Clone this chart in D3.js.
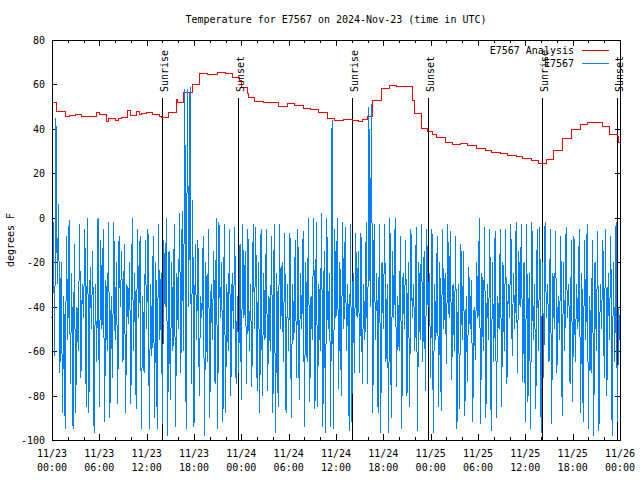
<!DOCTYPE html>
<html><head><meta charset="utf-8">
<script src="https://cdn.jsdelivr.net/npm/d3@7"></script>
<style>
html,body{margin:0;padding:0;background:#fff;}
text{font-family:"DejaVu Sans Mono","Liberation Mono",monospace;font-size:10px;fill:#000;}
</style></head><body>
<svg id="c" width="640" height="480"></svg>
<script>
const titleText = "Temperature for E7567 on 2024-Nov-23 (time in UTC)";
const yLabel = "degrees F";
const startUTC = Date.UTC(2024, 10, 23, 0, 0);
const spanHours = 72;
const yTicks = [-100, -80, -60, -40, -20, 0, 20, 40, 60, 80];
const xTickHours = [0, 6, 12, 18, 24, 30, 36, 42, 48, 54, 60, 66, 72];
const seriesNames = ["E7567 Analysis", "E7567"];
const seriesColors = ["#ff0000", "#0080ff"];

// Analysis (step) series: hour offset and temperature
const analysisHours = [0, 0.63, 1.65, 2.28, 3.04, 3.8, 5.7, 6.08, 6.85, 6.97, 7.15, 7.99, 8.37, 8.87, 9.63, 10.0, 10.65, 11.03, 11.4, 12.04, 12.8, 13.69, 13.94, 14.83, 15.72, 15.97, 16.73, 17.75, 18.76, 19.77, 20.92, 21.93, 22.82, 23.83, 24.08, 24.72, 24.97, 25.73, 26.75, 28.65, 29.79, 30.8, 31.82, 32.83, 33.84, 34.86, 35.87, 36.89, 38.03, 38.79, 39.42, 39.93, 40.69, 41.83, 42.84, 43.73, 45.76, 46.01, 46.9, 47.66, 48.17, 48.8, 49.82, 50.83, 51.72, 52.73, 53.75, 54.89, 55.77, 56.79, 57.8, 58.94, 59.7, 60.84, 61.73, 62.74, 63.51, 64.01, 64.77, 65.03, 65.91, 66.93, 67.82, 69.72, 70.73, 71.74, 71.87, 72];
const analysisTemps = [52.0, 47.8, 45.5, 46.2, 46.6, 45.8, 47.4, 46.6, 44.8, 43.3, 44.8, 44.0, 44.8, 45.3, 48.5, 45.9, 48.0, 46.5, 47.1, 47.5, 46.4, 45.5, 45.3, 47.4, 53.3, 52.0, 56.5, 60.1, 65.0, 64.7, 65.4, 64.8, 63.2, 61.7, 58.7, 56.0, 54.2, 52.5, 51.8, 50.3, 51.4, 50.6, 49.2, 48.8, 47.6, 44.8, 43.7, 44.3, 44.0, 43.3, 44.3, 45.8, 53.0, 58.2, 59.7, 59.2, 52.7, 47.0, 40.3, 38.8, 37.6, 36.2, 34.0, 33.1, 33.6, 32.5, 31.3, 30.5, 29.5, 29.0, 27.9, 27.5, 26.8, 25.7, 24.5, 26.3, 30.2, 30.5, 35.5, 35.8, 39.8, 42.1, 43.0, 41.0, 37.6, 36.5, 34.0, 34.0];

// Observed series, one value every 10 minutes from 11/23 00:00 UTC (one row = 3 hours)
const obsIntervalMinutes = 10;
const obsTemps = [
 -45,-2,-62,45,-30,6,-70,-20,-88,-35,-95,-8,-55,-1,-75,-25,-95,-12,
 -88,-40,-60,-3,-72,-30,-45,-5,-85,0,-88,-22,-50,-15,-97,-30,-65,0,
 -85,-10,-50,-5,-92,-28,-60,-2,-90,-35,-72,-2,-55,-20,-84,-8,-40,-15,
 -65,-12,-88,-30,-48,-20,-84,0,-60,-25,-86,-5,-45,-8,-95,-35,-70,-10,
 -50,-5,-95,-30,-62,-8,-90,-20,-95,-3,-55,-25,-93,-10,-40,0,-98,-15,
 -82,-20,-60,-3,-94,-25,-50,2,-70,3,-60,58,-95,58,-40,59,-75,8,
 -94,-12,-55,-10,-80,-35,-45,-8,-98,-20,-65,-5,-90,-30,-55,-15,-75,0,
 -95,-2,-45,-20,-92,-3,-88,-30,-60,-5,-80,-25,-50,-4,-75,-35,-70,-12,
 -82,-3,-45,-15,-75,-5,-60,-30,-76,-3,-50,-4,-78,-20,-88,-5,-80,-25,
 -55,-5,-78,-35,-60,-8,-88,-3,-97,-25,-85,-3,-50,-20,-65,-7,-88,-30,
 -60,-7,-90,-30,-55,-10,-72,-5,-82,-25,-50,-6,-94,-20,-65,0,-83,-35,
 -55,0,-86,-2,-85,-30,-60,2,-94,-15,-97,0,-50,-25,-94,44,-95,-5,
 -45,0,-77,-20,-80,-2,-50,-4,-60,-30,-96,-3,-92,-25,-70,-7,-45,-15,
 -70,-7,-75,-30,-55,-2,-75,50,-40,51,-88,-3,-55,-25,-88,-3,-97,-20,
 -50,-3,-65,-30,-97,0,-90,-15,-45,0,-76,-35,-60,-8,-95,-25,-50,-10,
 -80,-20,-85,-5,-45,-30,-60,-4,-96,-20,-55,-3,-65,-15,-78,-5,-40,-25,
 -72,-5,-97,-30,-55,-8,-85,-20,-87,-5,-50,-25,-66,-3,-45,-6,-73,-30,
 -60,-8,-95,-30,-86,-12,-55,-15,-89,-35,-74,-22,-50,-28,-92,-40,-64,-20,
 -45,0,-93,-25,-60,-4,-90,-30,-55,-5,-96,-20,-65,-6,-90,-35,-50,-5,
 -85,-20,-60,-5,-75,-30,-45,-3,-62,-25,-50,-2,-70,-15,-40,-3,-74,-20,
 -92,-3,-83,-25,-95,-2,-55,-30,-86,-5,-60,-4,-97,-20,-72,-2,-45,-30,
 -65,-5,-93,-25,-50,-6,-70,-35,-55,-8,-89,-20,-60,-4,-45,-30,-75,-10,
 -83,-8,-65,-30,-50,-5,-88,-25,-92,-10,-55,-3,-95,-35,-70,-10,-98,-20,
 -60,-6,-96,-30,-50,-10,-72,-5,-80,-25,-55,-8,-98,-20,-65,-2,-92,-40,
 -55
];

const sunLabels = ["Sunrise", "Sunset", "Sunrise", "Sunset", "Sunrise", "Sunset"];
const sunHours = [13.98, 23.62, 38.07, 47.7, 62.15, 71.65];

const svg = d3.select("#c");
const L = 52, R = 620, T = 40, B = 440;
const hourMs = 3600 * 1000;
const x = d3.scaleUtc().domain([new Date(startUTC), new Date(startUTC + spanHours * hourMs)]).range([L, R]);
const y = d3.scaleLinear().domain([-100, 80]).range([B, T]);
const tAt = h => new Date(startUTC + h * hourMs);

svg.append("text").attr("x", (L + R) / 2).attr("y", 23).attr("text-anchor", "middle").text(titleText);
svg.append("text").attr("transform", `translate(14,${(T + B) / 2}) rotate(-90)`).attr("text-anchor", "middle").text(yLabel);

const g = svg.append("g").attr("shape-rendering", "crispEdges");

yTicks.forEach(v => {
  const yy = Math.round(y(v)) + 0.5;
  g.append("line").attr("x1", L).attr("x2", L + 5).attr("y1", yy).attr("y2", yy).attr("stroke", "#000");
  g.append("line").attr("x1", R - 5).attr("x2", R).attr("y1", yy).attr("y2", yy).attr("stroke", "#000");
  svg.append("text").attr("x", 45).attr("y", y(v) + 4).attr("text-anchor", "end").text(v);
});
for (let h = 0; h <= spanHours; h += 2) {
  const xx = Math.round(x(tAt(h))) + 0.5;
  const len = h % 6 === 0 ? 6 : 3;
  g.append("line").attr("x1", xx).attr("x2", xx).attr("y1", B).attr("y2", B - len).attr("stroke", "#000");
  g.append("line").attr("x1", xx).attr("x2", xx).attr("y1", T).attr("y2", T + len).attr("stroke", "#000");
}
const fmtD = d3.utcFormat("%m/%d"), fmtT = d3.utcFormat("%H:%M");
xTickHours.forEach(h => {
  const d = tAt(h);
  const t = svg.append("text").attr("text-anchor", "middle");
  t.append("tspan").attr("x", x(d)).attr("y", 457).text(fmtD(d));
  t.append("tspan").attr("x", x(d)).attr("y", 471).text(fmtT(d));
});

sunHours.forEach((h, i) => {
  const xx = Math.round(x(tAt(h))) + 0.5;
  g.append("line").attr("x1", xx).attr("x2", xx).attr("y1", 98).attr("y2", B).attr("stroke", "#000");
  svg.append("text").attr("transform", `translate(${xx + 5},92) rotate(-90)`).attr("text-anchor", "start").text(sunLabels[i]);
});

const redData = analysisHours.map((h, i) => [tAt(h), analysisTemps[i]]);
g.append("path").datum(redData).attr("fill", "none").attr("stroke", seriesColors[0]).attr("stroke-width", 1)
  .attr("d", d3.line().x(d => x(d[0])).y(d => y(d[1])).curve(d3.curveStepAfter));

const blueData = obsTemps.map((v, i) => [new Date(startUTC + i * obsIntervalMinutes * 60000), v]);
g.append("path").datum(blueData).attr("fill", "none").attr("stroke", seriesColors[1]).attr("stroke-width", 1)
  .attr("d", d3.line().x(d => x(d[0])).y(d => y(d[1])));

g.append("rect").attr("x", L + 0.5).attr("y", T + 0.5).attr("width", R - L).attr("height", B - T).attr("fill", "none").attr("stroke", "#000");

seriesNames.forEach((n, i) => {
  const ly = 50 + i * 13;
  svg.append("text").attr("x", 574).attr("y", ly + 4).attr("text-anchor", "end").text(n);
  g.append("line").attr("x1", 582).attr("x2", 609).attr("y1", ly + 0.5).attr("y2", ly + 0.5).attr("stroke", seriesColors[i]);
});
</script></body></html>
